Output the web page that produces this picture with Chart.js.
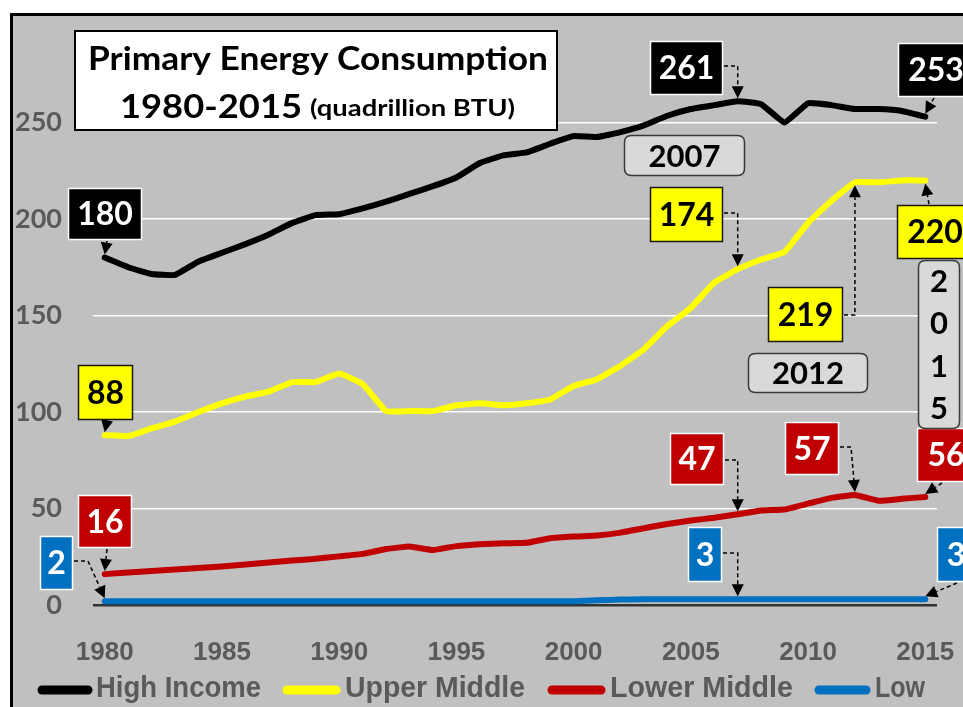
<!DOCTYPE html>
<html><head><meta charset="utf-8">
<script src="https://cdn.jsdelivr.net/npm/chart.js@4"></script>
<style>html,body{margin:0;padding:0;background:#fff}#wrap{width:963px;height:707px}</style>
</head><body><div id="wrap"><canvas id="c" width="963" height="707"></canvas></div>
<script>
// ---- data (quadrillion BTU) ----
const years = [1980,1981,1982,1983,1984,1985,1986,1987,1988,1989,1990,1991,1992,1993,1994,1995,1996,1997,1998,1999,2000,2001,2002,2003,2004,2005,2006,2007,2008,2009,2010,2011,2012,2013,2014,2015];
const highIncome = [180,175,171.5,171,178,182.5,187,192,198,202,202.5,205.5,209,213,217,221.5,229,233,234.5,239,243,242.5,245,248.5,253.5,257,259,261,259.5,250,260,259,257,257,256,253];
const upperMiddle = [88,87.5,91.5,95,100,104.5,108,110.5,115.5,115.5,120,114.5,100.5,100.5,100.5,103.5,104.5,103.5,104.5,106.5,113.5,117,124,132.5,144.5,154,167,174,179,183,198,209.5,219,219,220,220];
const lowerMiddle = [16,16.8,17.6,18.4,19.2,20,21,22,23,24,25.2,26.5,29,30.3,28.5,30.5,31.5,32,32.2,34.6,35.5,36,37.5,39.8,42,43.8,45.2,47,49,49.5,52.5,55.5,57,54,55,56];
const lowIncome = [2,2,2,2,2,2,2,2,2,2,2,2,2,2,2,2,2,2,2,2,2,2.4,2.8,3,3,3,3,3,3,3,3,3,3,3,3,3];
const seriesNames = ['High Income','Upper Middle','Lower Middle','Low'];
const seriesColors = ['#000000','#ffff00','#c00000','#0070c0'];
const yTickMax = 250;
const titleLine1 = 'Primary Energy Consumption';
const titleLine2a = '1980-2015';
const titleLine2b = '(quadrillion BTU)';

const seriesData = [highIncome, upperMiddle, lowerMiddle, lowIncome];

// ---- callouts (layout only; values come from the series) ----
const callouts = [
  {s:0, yr:1980, box:[68,188,142,240], path:[[107,241]], dir:1},
  {s:1, yr:1980, box:[78,365,133,420], path:[[107,421]], dir:1},
  {s:2, yr:1980, box:[78,495,132,548], path:[[107,549]], dir:1},
  {s:3, yr:1980, box:[40,536,73,590], path:[[74,561],[88,561]], dir:1},
  {s:0, yr:2007, box:[650,41,723,95], path:[[724,66],['px',66]], dir:1},
  {s:0, yr:2015, box:[898,43,975,97], path:[[934,98]], dir:1},
  {s:1, yr:2007, box:[650,187,723,242], path:[[724,213],['px',213]], dir:1},
  {s:1, yr:2012, box:[768,287,843,342], path:[[844,315],['px',315]], dir:-1},
  {s:1, yr:2015, box:[897,205,975,259], path:[[929,204]], dir:-1},
  {s:2, yr:2007, box:[670,433,724,485], path:[[725,460],['px',460]], dir:1},
  {s:2, yr:2012, box:[785,422,839,475], path:[[840,447],[851,447]], dir:1},
  {s:2, yr:2015, box:[917,428,975,482], path:[[942,483]], dir:1},
  {s:3, yr:2007, box:[688,527,722,582], path:[[723,553],['px',553]], dir:1},
  {s:3, yr:2015, box:[937,527,975,582], path:[[957,583]], dir:1}
];
const yearBoxes = [
  {text:'2007', box:[624,135,745,176]},
  {text:'2012', box:[748,353,868,393]},
  {text:'2015', box:[918,260,960,429], vertical:true}
];
const boxStyles = [
  {fill:'#000000', text:'#ffffff', border:'#ffffff'},
  {fill:'#ffff00', text:'#000000', border:'#1a1a1a'},
  {fill:'#c00000', text:'#ffffff', border:'#ffffff'},
  {fill:'#0070c0', text:'#ffffff', border:'#ffffff'}
];

function rrect(ctx,x1,y1,x2,y2,r){
  ctx.beginPath();
  ctx.moveTo(x1+r,y1); ctx.lineTo(x2-r,y1); ctx.quadraticCurveTo(x2,y1,x2,y1+r);
  ctx.lineTo(x2,y2-r); ctx.quadraticCurveTo(x2,y2,x2-r,y2);
  ctx.lineTo(x1+r,y2); ctx.quadraticCurveTo(x1,y2,x1,y2-r);
  ctx.lineTo(x1,y1+r); ctx.quadraticCurveTo(x1,y1,x1+r,y1); ctx.closePath();
}
function fitText(ctx, txt, x, y, font, color, targetW, align){
  ctx.save();
  ctx.font = font; ctx.fillStyle = color; ctx.textBaseline = 'middle'; ctx.textAlign='left';
  const w = ctx.measureText(txt).width;
  let sx = targetW ? targetW / w : 1;
  sx = Math.max(0.7, Math.min(1.35, sx));
  let left = x;
  if (align === 'center') left = x - w*sx/2;
  ctx.translate(left, y); ctx.scale(sx, 1);
  ctx.fillText(txt, 0, 0);
  ctx.restore();
}
function drawArrow(ctx, pts){
  ctx.save();
  ctx.strokeStyle = '#000'; ctx.fillStyle = '#000'; ctx.lineWidth = 1.5;
  const n = pts.length;
  const [tx,ty] = pts[n-1], [ax,ay] = pts[n-2];
  const len = Math.hypot(tx-ax, ty-ay) || 1;
  const ux = (tx-ax)/len, uy = (ty-ay)/len;
  const hl = 12, hw = 6;
  const bx = tx-ux*hl, by = ty-uy*hl;
  ctx.setLineDash([4,3]);
  ctx.beginPath(); ctx.moveTo(pts[0][0], pts[0][1]);
  for (let i=1;i<n-1;i++) ctx.lineTo(pts[i][0], pts[i][1]);
  ctx.lineTo(bx, by); ctx.stroke();
  ctx.setLineDash([]);
  ctx.beginPath(); ctx.moveTo(tx,ty); ctx.lineTo(bx-uy*hw, by+ux*hw); ctx.lineTo(bx+uy*hw, by-ux*hw); ctx.closePath(); ctx.fill();
  ctx.restore();
}

const chromePlugin = {
  id:'chrome',
  beforeDraw(chart){
    const ctx = chart.ctx;
    ctx.save();
    ctx.fillStyle = '#ffffff'; ctx.fillRect(0,0,chart.width,chart.height);
    ctx.fillStyle = '#c0c0c0'; ctx.fillRect(11,14,chart.width-11,chart.height-14);
    ctx.strokeStyle = '#000'; ctx.lineWidth = 3;
    ctx.beginPath(); ctx.moveTo(11.5, chart.height); ctx.lineTo(11.5,14.5); ctx.lineTo(chart.width,14.5); ctx.stroke();
    ctx.restore();
  },
  afterDatasetsDraw(chart){
    const ctx = chart.ctx, xs = chart.scales.x, ys = chart.scales.y;
    callouts.forEach(c => {
      const i = years.indexOf(c.yr);
      const v = seriesData[c.s][i];
      const px = xs.getPixelForValue(i), py = ys.getPixelForValue(v);
      const pts = c.path.map(p => [p[0]==='px'?px:p[0], p[1]]);
      pts.push([px, py - 3*c.dir]);
      drawArrow(ctx, pts);
      const st = boxStyles[c.s];
      const [x1,y1,x2,y2] = c.box;
      ctx.save();
      ctx.fillStyle = st.fill; ctx.fillRect(x1,y1,x2-x1,y2-y1);
      ctx.strokeStyle = st.border; ctx.lineWidth = 1.5; ctx.strokeRect(x1+0.5,y1+0.5,x2-x1-1,y2-y1-1);
      ctx.font = 'bold 32px Lato, "Liberation Sans", sans-serif';
      ctx.fillStyle = st.text; ctx.textAlign = 'center'; ctx.textBaseline = 'middle';
      const cx = Math.min((x1+x2)/2, x1 + 38);
      ctx.fillText(String(Math.round(v)), cx, (y1+y2)/2 + 1);
      ctx.restore();
    });
    yearBoxes.forEach(b => {
      const [x1,y1,x2,y2] = b.box;
      ctx.save();
      rrect(ctx,x1+0.5,y1+0.5,x2-0.5,y2-0.5,7);
      ctx.fillStyle = '#d9d9d9'; ctx.fill();
      ctx.strokeStyle = '#3a3a3a'; ctx.lineWidth = 1.5; ctx.stroke();
      ctx.fillStyle = '#000'; ctx.textAlign='center'; ctx.textBaseline='middle';
      ctx.font = 'bold 31px Lato, "Liberation Sans", sans-serif';
      if (b.vertical){
        const chars = b.text.split('');
        const step = (y2-y1)/chars.length;
        chars.forEach((ch,k)=> ctx.fillText(ch, (x1+x2)/2, y1 + step*(k+0.5) + 1));
      } else {
        ctx.fillText(b.text, (x1+x2)/2, (y1+y2)/2 + 1);
      }
      ctx.restore();
    });
  },
  afterDraw(chart){
    const ctx = chart.ctx;
    ctx.save();
    ctx.fillStyle = '#ffffff'; ctx.fillRect(74,30,484,101);
    ctx.strokeStyle = '#000'; ctx.lineWidth = 2; ctx.strokeRect(75,31,482,99);
    ctx.restore();
    fitText(ctx, titleLine1, 318, 60, 'bold 32px Lato, "Liberation Sans", sans-serif', '#000', 460, 'center');
    fitText(ctx, titleLine2a, 120, 107, 'bold 33px Lato, "Liberation Sans", sans-serif', '#000', 182, 'left');
    fitText(ctx, titleLine2b, 310, 109, 'bold 22px Lato, "Liberation Sans", sans-serif', '#000', 205, 'left');
    const legendPos = [{m:[38,92], t:96, w:165}, {m:[283,340], t:345, w:180}, {m:[548,605], t:610, w:183}, {m:[815,870], t:875, w:50}];
    chart.data.datasets.forEach((ds,k) => {
      const L = legendPos[k];
      ctx.save();
      ctx.strokeStyle = ds.borderColor; ctx.lineWidth = 9; ctx.lineCap = 'round';
      ctx.beginPath(); ctx.moveTo(L.m[0]+4, 690); ctx.lineTo(L.m[1]-4, 690); ctx.stroke();
      ctx.restore();
      fitText(ctx, ds.label, L.t, 689, 'bold 30px "Liberation Sans Narrow", "Liberation Sans", sans-serif', '#5a5a5a', L.w, 'left');
    });
  }
};

new Chart(document.getElementById('c'), {
  type: 'line',
  data: {
    labels: years,
    datasets: seriesData.map((d,k) => ({
      label: seriesNames[k], data: d, borderColor: seriesColors[k], backgroundColor: seriesColors[k],
      borderWidth: 6, pointRadius: 0, tension: 0.1, borderJoinStyle: 'round', borderCapStyle: 'round', fill: false
    }))
  },
  options: {
    responsive: false, animation: false, devicePixelRatio: 1,
    layout: { padding: { top: 26, right: 26, left: 0, bottom: 0 } },
    plugins: { legend: { display: false }, tooltip: { enabled: false }, title: { display: false } },
    scales: {
      x: {
        type: 'category', offset: true,
        grid: { display: false, drawTicks: false },
        border: { display: false },
        ticks: {
          autoSkip: false, maxRotation: 0, padding: 32, color: '#5a5a5a',
          font: { family: '"Liberation Sans Narrow", "Liberation Sans", sans-serif', size: 26, weight: 'bold' },
          callback: (val, i) => (years[i] % 5 === 0 ? String(years[i]) : '')
        },
        afterFit: s => { s.height = 102; s.paddingLeft = 0; s.paddingRight = 0; s.paddingTop = 0; s.paddingBottom = 0; }
      },
      y: {
        min: 0, max: 300,
        grid: {
          drawTicks: false,
          color: c => (c.tick && c.tick.value === 0 ? '#333333' : '#ffffff'),
          lineWidth: c => (c.tick && c.tick.value === 0 ? 2.5 : 1.5)
        },
        border: { display: false },
        ticks: {
          stepSize: 50, padding: 31, color: '#5a5a5a',
          font: { family: 'Lato, "Liberation Sans", sans-serif', size: 27, weight: 'bold' }
        },
        afterBuildTicks: s => { s.ticks = s.ticks.filter(t => t.value <= yTickMax); },
        afterFit: s => { s.width = 93; s.paddingLeft = 0; s.paddingRight = 0; s.paddingTop = 0; s.paddingBottom = 0; }
      }
    }
  },
  plugins: [chromePlugin]
});
</script>
</body></html>
